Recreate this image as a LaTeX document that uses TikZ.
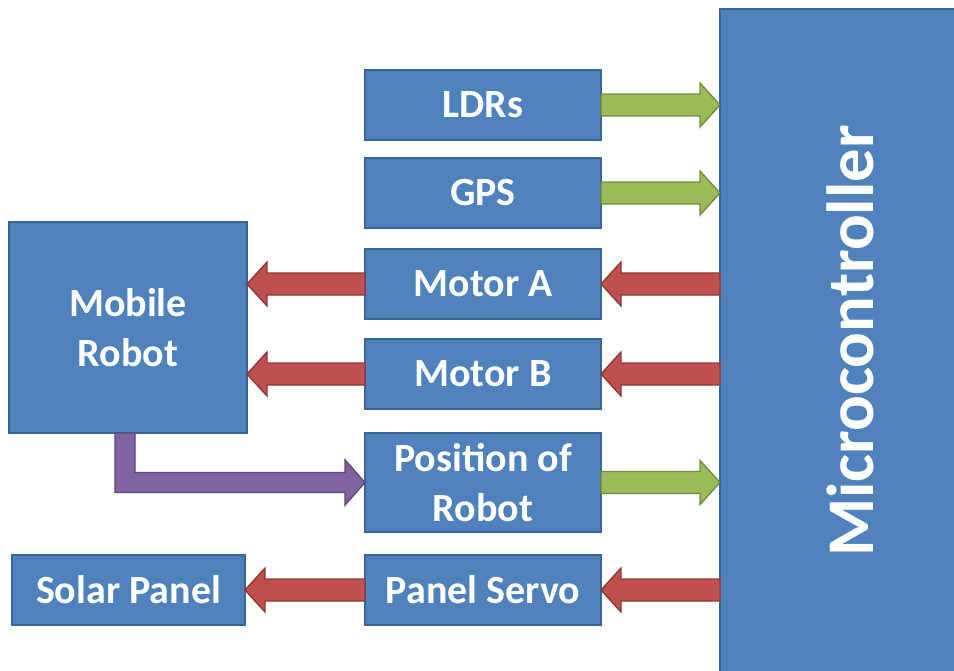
\documentclass[tikz,border=0pt]{standalone}
\usepackage{fontspec}
\usepackage{graphicx}
\setmainfont{Carlito}
\usetikzlibrary{calc}
\definecolor{boxblue}{HTML}{4F81BD}
\definecolor{boxedge}{HTML}{3A6598}
\definecolor{grfill}{HTML}{9BBB59}
\definecolor{gredge}{HTML}{71893F}
\definecolor{rdfill}{HTML}{C0504D}
\definecolor{rdedge}{HTML}{8C3836}
\definecolor{pufill}{HTML}{8064A2}
\definecolor{puedge}{HTML}{5C4776}
% right-pointing block arrow from #1 to #2 (tip), style #3
\newcommand{\arrRight}[3]{\draw[#3] let \p1=(#1), \p2=(#2) in
  (\x1,\y1+8.25pt) -- (\x2-15pt,\y1+8.25pt) -- (\x2-15pt,\y1+16.5pt) -- (\x2,\y1)
  -- (\x2-15pt,\y1-16.5pt) -- (\x2-15pt,\y1-8.25pt) -- (\x1,\y1-8.25pt) -- cycle;}
% left-pointing block arrow from #1 to #2 (tip), style #3
\newcommand{\arrLeft}[3]{\draw[#3] let \p1=(#1), \p2=(#2) in
  (\x1,\y1+8.25pt) -- (\x2+15pt,\y1+8.25pt) -- (\x2+15pt,\y1+16.5pt) -- (\x2,\y1)
  -- (\x2+15pt,\y1-16.5pt) -- (\x2+15pt,\y1-8.25pt) -- (\x1,\y1-8.25pt) -- cycle;}
\begin{document}
\begin{tikzpicture}[x=0.75pt,y=-0.75pt,
  box/.style={draw=boxedge, fill=boxblue, line width=1.1pt, inner sep=0pt, outer sep=0pt,
    text=white, font=\fontsize{30}{37}\selectfont\bfseries, align=center},
  sbox/.style={box, minimum width=177pt, minimum height=52.5pt},
  garrow/.style={fill=grfill, draw=gredge, line width=1pt, line join=miter},
  rarrow/.style={fill=rdfill, draw=rdedge, line width=1pt, line join=miter},
  parrow/.style={fill=pufill, draw=puedge, line width=1pt, line join=miter}]
\useasboundingbox (0,0) rectangle (954,671);
\fill[white] (0,0) rectangle (954,671);

\node[box, minimum width=195pt, minimum height=498pt] (mc) at (850,341)
  {\rotatebox{90}{\fontsize{50}{58}\selectfont\bfseries Microcontroller}};

\node[sbox] (ldr) at (483,105) {LDRs};
\node[sbox] (gps) at (483,193) {GPS};
\node[sbox] (mota) at (483,284) {Motor A};
\node[sbox] (motb) at (483,374) {Motor B};
\node[box, minimum width=177pt, minimum height=74.25pt] (pos) at (483,482.5) {Position of\\Robot};
\node[sbox] (servo) at (483,590) {Panel Servo};
\node[box, minimum width=174.75pt, minimum height=52.5pt] (solar) at (128.5,590) {Solar Panel};
\node[box, minimum width=178.5pt, minimum height=158.25pt] (mobile) at (128,327.5) {Mobile\\Robot};

\arrRight{ldr.east}{mc.west |- ldr.east}{garrow}
\arrRight{gps.east}{mc.west |- gps.east}{garrow}
\arrRight{pos.east}{mc.west |- pos.east}{garrow}
\arrLeft{mc.west |- mota.east}{mota.east}{rarrow}
\arrLeft{mc.west |- motb.east}{motb.east}{rarrow}
\arrLeft{mc.west |- servo.east}{servo.east}{rarrow}
\arrLeft{mota.west}{mobile.east |- mota.west}{rarrow}
\arrLeft{motb.west}{mobile.east |- motb.west}{rarrow}
\arrLeft{servo.west}{solar.east}{rarrow}

\draw[parrow] let \p1=(mobile.south), \p2=(pos.west) in
  (\x1-9.75pt,\y1) -- (\x1-9.75pt,\y2-7.5pt) -- (\x2-15pt,\y2-7.5pt) -- (\x2-15pt,\y2-17pt)
  -- (\x2,\y2) -- (\x2-15pt,\y2+17pt) -- (\x2-15pt,\y2+7.5pt) -- (\x1+5.25pt,\y2+7.5pt)
  -- (\x1+5.25pt,\y1) -- cycle;
\end{tikzpicture}
\end{document}
